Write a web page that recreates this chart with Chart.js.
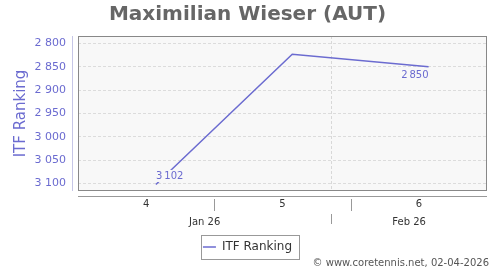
<!DOCTYPE html>
<html>
<head>
<meta charset="utf-8">
<script src="https://cdn.jsdelivr.net/npm/chart.js@4"></script>
<style>
    body { margin: 0; background: #fff; }
    canvas { display: block; }
</style>
</head>
<body>
<canvas id="rankChart" width="500" height="270"></canvas>
<script>
// Ranking data (dates as ISO strings)
const rankDates = ['2026-01-23', '2026-01-30', '2026-02-06'];
const ranking = [3102, 2823, 2850];

// Axis layout data
const xRange = ['2026-01-19', '2026-02-09'];
const weekLabels = ['4', '5', '6'];
const weekStarts = ['2026-01-19', '2026-01-26', '2026-02-02'];
const monthLabels = ['Jan 26', 'Feb 26'];
const monthStarts = ['2026-01-01', '2026-02-01'];
const yTicks = [2800, 2850, 2900, 2950, 3000, 3050, 3100];
const yRange = [2784, 3116];

const BLUE = '#6b6bd0';
const PLOT_BG = '#f8f8f8';

Chart.defaults.font.family = 'DejaVu Sans';

// Day number from an ISO date
function day(d) {
    return Date.parse(d + 'T00:00:00Z') / 86400000;
}

// "2800" -> "2 800"
function fmt(v, sep = ' ') {
    return String(v).replace(/\B(?=(\d{3})+$)/g, sep);
}

const xMin = day(xRange[0]);
const xMax = day(xRange[1]);

// Week centres carry the labels, week starts (inside range) are separators
const weekCentres = weekStarts.map(d => day(d) + 3.5);
const weekBounds = weekStarts.map(day).filter(v => v > xMin && v < xMax);

// Month bands clipped to the visible range
const monthBounds = monthStarts.map(day).filter(v => v > xMin && v < xMax);
const monthCentres = monthStarts.map((d, i) => {
    const a = Math.max(day(d), xMin);
    const b = i + 1 < monthStarts.length ? Math.min(day(monthStarts[i + 1]), xMax) : xMax;
    return (a + b) / 2;
});

// Plot background, border, axis lines, separators, data labels, credits
const decor = {
    id: 'decor',
    beforeDraw(chart) {
        const { ctx, chartArea: a } = chart;
        ctx.save();
        ctx.fillStyle = PLOT_BG;
        ctx.fillRect(a.left, a.top, a.right - a.left, a.bottom - a.top);
        ctx.restore();
    },
    afterDatasetsDraw(chart) {
        const { ctx } = chart;
        const pts = chart.getDatasetMeta(0).data;
        const last = pts.length - 1;
        ctx.save();
        ctx.font = '10px DejaVu Sans';
        ctx.textBaseline = 'middle';
        // first point: label above, left aligned; last point: below, right aligned
        [[0, 'left', -8.5], [last, 'right', 8.5]].forEach(([i, align, dy]) => {
            const p = pts[i];
            const txt = fmt(ranking[i], '\u2009');
            const w = ctx.measureText(txt).width;
            const x0 = align === 'left' ? p.x : p.x - w;
            ctx.fillStyle = PLOT_BG;
            ctx.fillRect(x0 - 1, p.y + dy - 6, w + 2, 12);
            ctx.fillStyle = BLUE;
            ctx.textAlign = align;
            ctx.fillText(txt, p.x, p.y + dy);
        });
        ctx.restore();
    },
    afterDraw(chart) {
        const { ctx, chartArea: a } = chart;
        const xs = chart.scales.x;
        ctx.save();
        // plot border
        ctx.strokeStyle = '#888';
        ctx.lineWidth = 1;
        ctx.strokeRect(a.left + 0.5, a.top + 0.5, a.right - a.left - 1, a.bottom - a.top - 1);
        // y axis line
        ctx.strokeStyle = '#c6c6e6';
        ctx.beginPath();
        ctx.moveTo(a.left - 5.5, a.top);
        ctx.lineTo(a.left - 5.5, a.bottom);
        ctx.stroke();
        // x axis line
        ctx.strokeStyle = '#999';
        ctx.beginPath();
        ctx.moveTo(a.left, a.bottom + 5.5);
        ctx.lineTo(a.right, a.bottom + 5.5);
        ctx.stroke();
        // week separators
        weekBounds.forEach(v => {
            const x = Math.round(xs.getPixelForValue(v)) + 0.5;
            ctx.beginPath();
            ctx.moveTo(x, a.bottom + 8);
            ctx.lineTo(x, a.bottom + 20);
            ctx.stroke();
        });
        // month separators
        monthBounds.forEach(v => {
            const x = Math.round(xs.getPixelForValue(v)) + 0.5;
            ctx.beginPath();
            ctx.moveTo(x, a.bottom + 23);
            ctx.lineTo(x, a.bottom + 33);
            ctx.stroke();
        });
        // legend border
        const hb = chart.legend.legendHitBoxes[0];
        if (hb) {
            const cy = hb.top + hb.height / 2;
            ctx.strokeStyle = '#999';
            ctx.strokeRect(Math.round(hb.left - 2) + 0.5, Math.round(cy - 12) + 0.5,
                Math.round(hb.width + 9), 24);
        }
        // credits
        ctx.fillStyle = '#555';
        ctx.font = '10px DejaVu Sans';
        ctx.textAlign = 'right';
        ctx.textBaseline = 'middle';
        ctx.fillText('\u00a9 www.coretennis.net, 02-04-2026', 489, 263);
        ctx.restore();
    }
};

const ctx = document.getElementById('rankChart').getContext('2d');
new Chart(ctx, {
    type: 'line',
    data: {
        datasets: [{
            label: 'ITF Ranking',
            data: rankDates.map((d, i) => ({ x: day(d), y: ranking[i] })),
            borderColor: BLUE,
            backgroundColor: BLUE,
            borderWidth: 1.5,
            pointRadius: 0,
            pointHoverRadius: 0,
            tension: 0,
            clip: false
        }]
    },
    options: {
        responsive: false,
        animation: false,
        layout: { padding: { left: 8, right: 13, top: 0, bottom: 7 } },
        plugins: {
            title: {
                display: true,
                text: 'Maximilian Wieser (AUT)',
                color: '#666',
                font: { size: 20, weight: 'bold' },
                padding: { top: 3, bottom: 9 }
            },
            legend: {
                position: 'bottom',
                labels: {
                    usePointStyle: true,
                    pointStyle: 'line',
                    pointStyleWidth: 13,
                    color: '#333',
                    font: { size: 12 },
                    padding: 10
                }
            },
            tooltip: { enabled: false }
        },
        scales: {
            x: {
                type: 'linear',
                position: 'bottom',
                min: xMin,
                max: xMax,
                afterBuildTicks: s => { s.ticks = weekCentres.map(v => ({ value: v })); },
                afterFit: s => { s.height = 19; },
                grid: { display: false, drawTicks: false },
                border: { display: false },
                ticks: {
                    color: '#333',
                    font: { size: 10 },
                    padding: 7,
                    maxRotation: 0,
                    autoSkip: false,
                    callback: (v, i) => weekLabels[i]
                }
            },
            x2: {
                type: 'linear',
                position: 'bottom',
                weight: 1,
                min: xMin,
                max: xMax,
                afterBuildTicks: s => {
                    s.ticks = monthCentres.concat(monthBounds).map(v => ({ value: v }));
                },
                afterFit: s => { s.height = 21; },
                grid: {
                    drawTicks: false,
                    drawOnChartArea: true,
                    color: c => monthBounds.includes(c.tick && c.tick.value) ? '#d8d8d8' : 'rgba(0,0,0,0)'
                },
                border: { display: false, dash: [3, 2] },
                ticks: {
                    color: '#333',
                    font: { size: 10 },
                    padding: 6,
                    maxRotation: 0,
                    autoSkip: false,
                    callback: (v, i) => i < monthLabels.length ? monthLabels[i] : ''
                }
            },
            y: {
                type: 'linear',
                reverse: true,
                min: yRange[0],
                max: yRange[1],
                afterBuildTicks: s => { s.ticks = yTicks.map(v => ({ value: v })); },
                afterFit: s => { s.width = 70; },
                grid: { color: '#dcdcdc', drawTicks: false },
                border: { display: false, dash: [3, 2] },
                title: {
                    display: true,
                    text: 'ITF Ranking',
                    color: BLUE,
                    font: { size: 15 },
                    padding: { top: 4, bottom: 4 }
                },
                ticks: {
                    color: BLUE,
                    font: { size: 11 },
                    padding: 12,
                    callback: v => fmt(v)
                }
            }
        }
    },
    plugins: [decor]
});
</script>
</body>
</html>
